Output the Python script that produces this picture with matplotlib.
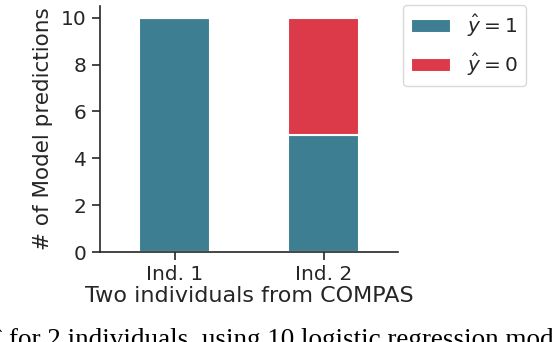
import matplotlib
matplotlib.use("Agg")
import matplotlib.pyplot as plt
import numpy as np

categories = ["Ind. 1", "Ind. 2"]
pred_one = [10, 5]
pred_zero = [0, 5]
legend_labels = [r"$\hat{y} = 1$", r"$\hat{y} = 0$"]
colors = ["#3d7e92", "#dc3a49"]
text_color = "#262626"

plt.rcParams["font.family"] = ["DejaVu Sans"]
plt.rcParams["mathtext.fontset"] = "dejavusans"

fig = plt.figure(figsize=(5.52, 3.42), dpi=100)
ax = fig.add_axes([100/552, (342-252)/342, (398-100)/552, (252-6)/342])

x = np.arange(len(categories))
b1 = ax.bar(x, pred_one, width=0.48, color=colors[0], edgecolor="white", linewidth=1.5, label=legend_labels[0])
b0 = ax.bar(x, pred_zero, width=0.48, bottom=pred_one, color=colors[1], edgecolor="white", linewidth=1.5, label=legend_labels[1])

ax.set_xlim(-0.5, 1.5)
ax.set_ylim(0, 10.5)
ax.set_xticks(x)
ax.set_xticklabels(categories)
ax.set_yticks([0, 2, 4, 6, 8, 10])
ax.tick_params(axis="both", labelsize=14.5, colors=text_color, length=6, width=1.2)
for s in ["top", "right"]:
    ax.spines[s].set_visible(False)
for s in ["left", "bottom"]:
    ax.spines[s].set_color(text_color)
    ax.spines[s].set_linewidth(1.2)
ax.set_ylabel("# of Model predictions", fontsize=15.5, color=text_color, labelpad=6)
ax.set_xlabel("Two individuals from COMPAS", fontsize=16, color=text_color, labelpad=1)

leg = ax.legend(handles=[b1, b0], labels=legend_labels, loc="upper left",
                bbox_to_anchor=(403/552, 1 - 5/342), bbox_transform=fig.transFigure,
                fontsize=14.5, frameon=True, borderaxespad=0, handlelength=2.0,
                labelspacing=0.65)
leg.get_frame().set_edgecolor("#d0d0d0")
for t in leg.get_texts():
    t.set_color(text_color)

fig.text(-0.012, -5/342, "\u02c6 for 2 individuals, using 10 logistic regression models",
         fontsize=19.5, family="Liberation Serif", va="baseline", ha="left", color="black")

fig.savefig("out.png", dpi=100)
